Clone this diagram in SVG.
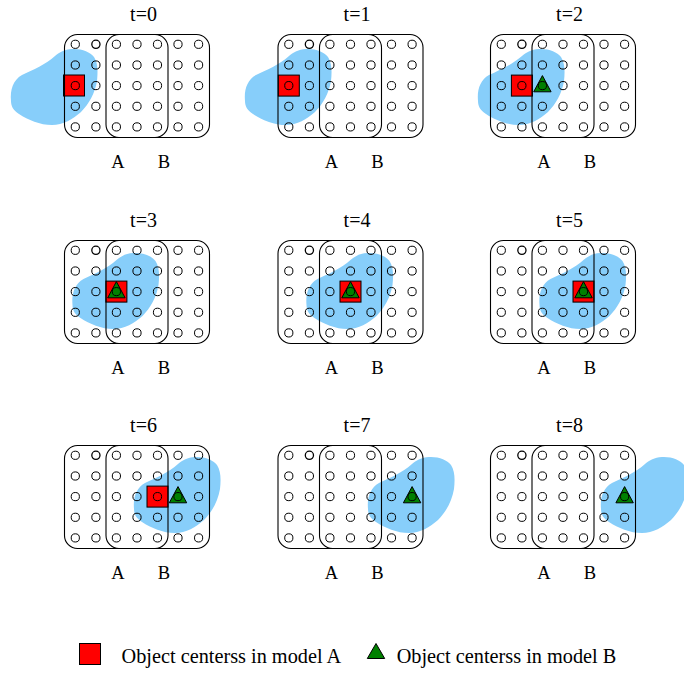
<svg xmlns="http://www.w3.org/2000/svg" width="684" height="673" viewBox="0 0 684 673">
<style>
.bg{fill:#ffffff}
.blob{fill:#87CEFA;stroke:none}
.reg{fill:none;stroke:#000;stroke-width:1.1}
.pt{fill:none;stroke:#000;stroke-width:1}
.ptb{fill:none;stroke:#000;stroke-width:1.3}
.sq{fill:#FF0000;stroke:#000;stroke-width:1}
.tri{fill:#008000;stroke:#000;stroke-width:1}
.ttl{font-family:"Liberation Serif","Times New Roman",serif;font-size:20px;fill:#000;text-anchor:middle}
.ab{font-family:"Liberation Serif","Times New Roman",serif;font-size:18.5px;fill:#000;text-anchor:middle}
.leg{font-family:"Liberation Serif","Times New Roman",serif;font-size:20.3px;fill:#000}
</style>
<defs>
<path id="blob" class="blob" d="M11,101 C10,90 13,80 22,75 C33,70 46,64 55,56 C60,52 64,49.5 72,49 C82,48.5 90,52 94,57 C98,63 98,72 97,81 C95,93 89,104 81,112 C73,119 63,125 52,125 C40,125 28,120 19,114 C13,110 11,106 11,101 Z"/>
<g id="grid">
<rect class="reg" x="64.5" y="34.5" width="103.5" height="103" rx="13"/>
<rect class="reg" x="106" y="34.5" width="103.5" height="103" rx="13"/>
<g>
<circle class="pt" cx="75.3" cy="44.3" r="4.1"/><circle class="ptb" cx="95.9" cy="44.3" r="4.1"/><circle class="pt" cx="116.4" cy="44.3" r="4.1"/><circle class="pt" cx="137" cy="44.3" r="4.1"/><circle class="pt" cx="157.5" cy="44.3" r="4.1"/><circle class="pt" cx="178" cy="44.3" r="4.1"/><circle class="pt" cx="198.6" cy="44.3" r="4.1"/>
<circle class="pt" cx="75.3" cy="65" r="4.1"/><circle class="pt" cx="95.9" cy="65" r="4.1"/><circle class="pt" cx="116.4" cy="65" r="4.1"/><circle class="pt" cx="137" cy="65" r="4.1"/><circle class="pt" cx="157.5" cy="65" r="4.1"/><circle class="pt" cx="178" cy="65" r="4.1"/><circle class="pt" cx="198.6" cy="65" r="4.1"/>
<circle class="pt" cx="75.3" cy="85.6" r="4.1"/><circle class="pt" cx="95.9" cy="85.6" r="4.1"/><circle class="pt" cx="116.4" cy="85.6" r="4.1"/><circle class="pt" cx="137" cy="85.6" r="4.1"/><circle class="pt" cx="157.5" cy="85.6" r="4.1"/><circle class="pt" cx="178" cy="85.6" r="4.1"/><circle class="pt" cx="198.6" cy="85.6" r="4.1"/>
<circle class="pt" cx="75.3" cy="106.3" r="4.1"/><circle class="pt" cx="95.9" cy="106.3" r="4.1"/><circle class="pt" cx="116.4" cy="106.3" r="4.1"/><circle class="pt" cx="137" cy="106.3" r="4.1"/><circle class="pt" cx="157.5" cy="106.3" r="4.1"/><circle class="pt" cx="178" cy="106.3" r="4.1"/><circle class="pt" cx="198.6" cy="106.3" r="4.1"/>
<circle class="pt" cx="75.3" cy="126.9" r="4.1"/><circle class="pt" cx="95.9" cy="126.9" r="4.1"/><circle class="pt" cx="116.4" cy="126.9" r="4.1"/><circle class="pt" cx="137" cy="126.9" r="4.1"/><circle class="pt" cx="157.5" cy="126.9" r="4.1"/><circle class="pt" cx="178" cy="126.9" r="4.1"/><circle class="pt" cx="198.6" cy="126.9" r="4.1"/>
</g>
<text class="ab" x="118" y="168">A</text>
<text class="ab" x="164" y="168">B</text>
</g>
</defs>
<rect class="bg" x="0" y="0" width="684" height="673"/>

<g id="panel-t0" transform="translate(0,0)">
<use href="#blob" transform="translate(0,0)"/>
<rect class="sq" x="63.5" y="75" width="21" height="21"/>
<use href="#grid"/>
<text class="ttl" x="143.5" y="20.5">t=0</text>
</g>

<g id="panel-t1" transform="translate(213.5,0)">
<use href="#blob" transform="translate(20.5,0)"/>
<rect class="sq" x="64.8" y="75.1" width="21" height="21"/>
<use href="#grid"/>
<text class="ttl" x="143.5" y="20.5">t=1</text>
</g>

<g id="panel-t2" transform="translate(426,0)">
<use href="#blob" transform="translate(41,0)"/>
<rect class="sq" x="85.4" y="75.1" width="21" height="21"/>
<polygon class="tri" points="116.4,75.6 107.7,91.8 125.1,91.8"/>
<use href="#grid"/>
<text class="ttl" x="143.5" y="20.5">t=2</text>
</g>

<g id="panel-t3" transform="translate(0,206)">
<use href="#blob" transform="translate(61.5,-2)"/>
<rect class="sq" x="105.9" y="75.1" width="21" height="21"/>
<polygon class="tri" points="116.4,75.6 107.7,91.8 125.1,91.8"/>
<use href="#grid"/>
<text class="ttl" x="143.5" y="20.5">t=3</text>
</g>

<g id="panel-t4" transform="translate(213.5,206)">
<use href="#blob" transform="translate(82,-2)"/>
<rect class="sq" x="126.5" y="75.1" width="21" height="21"/>
<polygon class="tri" points="137,75.6 128.3,91.8 145.7,91.8"/>
<use href="#grid"/>
<text class="ttl" x="143.5" y="20.5">t=4</text>
</g>

<g id="panel-t5" transform="translate(426,206)">
<use href="#blob" transform="translate(102.5,-2)"/>
<rect class="sq" x="147" y="75.1" width="21" height="21"/>
<polygon class="tri" points="157.5,75.6 148.8,91.8 166.2,91.8"/>
<use href="#grid"/>
<text class="ttl" x="143.5" y="20.5">t=5</text>
</g>

<g id="panel-t6" transform="translate(0,411)">
<use href="#blob" transform="translate(123,-3)"/>
<rect class="sq" x="147" y="75.1" width="21" height="21"/>
<polygon class="tri" points="178,75.6 169.3,91.8 186.7,91.8"/>
<use href="#grid"/>
<text class="ttl" x="143.5" y="20.5">t=6</text>
</g>

<g id="panel-t7" transform="translate(213.5,411)">
<use href="#blob" transform="translate(143.5,-3)"/>
<polygon class="tri" points="198.6,75.6 189.9,91.8 207.3,91.8"/>
<use href="#grid"/>
<text class="ttl" x="143.5" y="20.5">t=7</text>
</g>

<g id="panel-t8" transform="translate(426,411)">
<use href="#blob" transform="translate(164,-3)"/>
<polygon class="tri" points="198.6,75.6 189.9,91.8 207.3,91.8"/>
<use href="#grid"/>
<text class="ttl" x="143.5" y="20.5">t=8</text>
</g>

<g id="legend">
<rect class="sq" x="79.5" y="643.5" width="21" height="21"/>
<text class="leg" x="121.5" y="663.3">Object centerss in model A</text>
<polygon class="tri" points="376,643.5 367.3,658.5 384.7,658.5"/>
<text class="leg" x="396.7" y="663.3">Object centerss in model B</text>
</g>
<g id="connectors"/>
</svg>
